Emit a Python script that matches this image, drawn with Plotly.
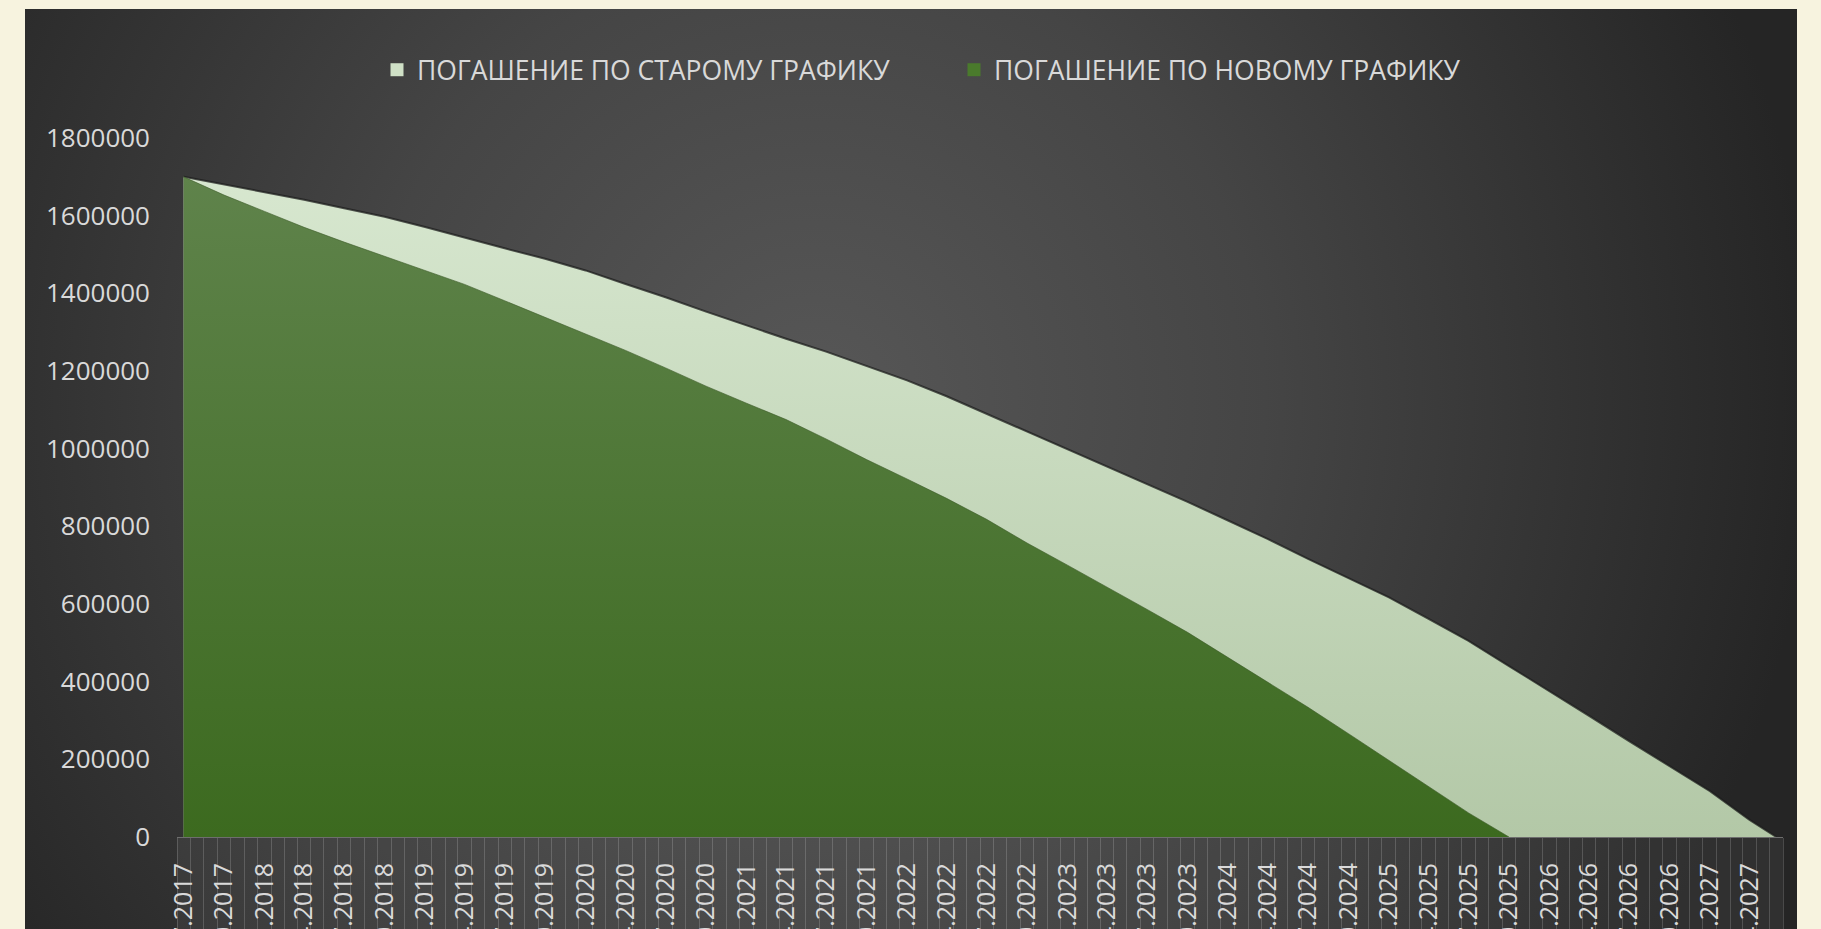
import base64
import plotly.graph_objects as go

# ---- data ----
# quarterly payment dates that carry an axis label
label_dates = [
    "2017-07-01", "2017-10-01",
    "2018-01-01", "2018-04-01", "2018-07-01", "2018-10-01",
    "2019-01-01", "2019-04-01", "2019-07-01", "2019-10-01",
    "2020-01-01", "2020-04-01", "2020-07-01", "2020-10-01",
    "2021-01-01", "2021-04-01", "2021-07-01", "2021-10-01",
    "2022-01-01", "2022-04-01", "2022-07-01", "2022-10-01",
    "2023-01-01", "2023-04-01", "2023-07-01", "2023-10-01",
    "2024-01-01", "2024-04-01", "2024-07-01", "2024-10-01",
    "2025-01-01", "2025-04-01", "2025-07-01", "2025-10-01",
    "2026-01-01", "2026-04-01", "2026-07-01", "2026-10-01",
    "2027-01-01", "2027-04-01",
]
old_end_date = "2027-06-01"

# remaining debt, old schedule (at label dates, then final payment)
old_values = [
    1700000, 1680000, 1661000, 1641000, 1619000, 1597000, 1571000, 1543000,
    1516000, 1489000, 1459000, 1424000, 1390000, 1353000, 1317000, 1283000,
    1250000, 1213000, 1176000, 1135000, 1090000, 1045000, 1000000, 955000,
    909000, 863000, 815000, 767000, 716000, 667000, 617000, 562000,
    505000, 440000, 376000, 312000, 247000, 183000, 118000, 44000,
    0,
]
# remaining debt, new schedule (at label dates; last value is the payoff)
new_values = [
    1700000, 1653000, 1611000, 1570000, 1532000, 1495000, 1459000, 1423000,
    1381000, 1338000, 1296000, 1253000, 1208000, 1161000, 1117000, 1075000,
    1025000, 972000, 922000, 872000, 818000, 757000, 700000, 644000,
    586000, 527000, 462000, 398000, 334000, 266000, 198000, 131000,
    62000, 0,
]
y_ticks = [0, 200000, 400000, 600000, 800000, 1000000, 1200000, 1400000, 1600000, 1800000]

old_name = "ПОГАШЕНИЕ ПО СТАРОМУ ГРАФИКУ"
new_name = "ПОГАШЕНИЕ ПО НОВОМУ ГРАФИКУ"

old_dates = label_dates + [old_end_date]
new_dates = label_dates[:len(new_values)]

# ---- layout geometry ----
W, H = 1821, 929
ML, MR, MT, MB = 177, 38, 138, 92
PW, PH = W - ML - MR, H - MT - MB

TXT = "#d9d9d9"
FONT = "Open Sans"

# radial gradient background of the chart object
BX0, BY0, BW, BH = 25, 9, 1772, 920
svg = f"""<svg xmlns='http://www.w3.org/2000/svg' width='{BW}' height='{BH}' viewBox='0 0 {BW} {BH}' preserveAspectRatio='none'>
<defs><radialGradient id='g' gradientUnits='userSpaceOnUse' cx='790' cy='390' r='1000'>
<stop offset='0' stop-color='#575757'/><stop offset='0.45' stop-color='#454545'/>
<stop offset='1' stop-color='#252525'/></radialGradient></defs>
<rect width='{BW}' height='{BH}' fill='url(#g)'/></svg>"""
bg_src = "data:image/svg+xml;base64," + base64.b64encode(svg.encode()).decode()

fig = go.Figure()

fig.add_trace(go.Scatter(
    x=old_dates, y=old_values, mode="lines", fill="tozeroy",
    line=dict(color="rgba(28,28,28,0.75)", width=2),
    fillgradient=dict(type="vertical", colorscale=[[0, "#b3c8a7"], [1, "#d7e7cf"]]),
    showlegend=False, hoverinfo="skip", name=old_name,
))
fig.add_trace(go.Scatter(
    x=new_dates, y=new_values, mode="lines", fill="tozeroy",
    line=dict(color="rgba(60,90,40,0.6)", width=1),
    fillgradient=dict(type="vertical", colorscale=[[0, "#3c6a1f"], [1, "#5f834b"]]),
    showlegend=False, hoverinfo="skip", name=new_name,
))
# legend swatches
fig.add_trace(go.Scatter(x=[None], y=[None], mode="markers", name=old_name,
                         marker=dict(symbol="square", size=13, color="#cfe0c6")))
fig.add_trace(go.Scatter(x=[None], y=[None], mode="markers", name=new_name,
                         marker=dict(symbol="square", size=13, color="#4a7a2c")))

fig.update_layout(
    width=W, height=H,
    margin=dict(l=ML, r=MR, t=MT, b=MB, autoexpand=False),
    paper_bgcolor="#f7f3df",
    plot_bgcolor="rgba(0,0,0,0)",
    font=dict(family=FONT, color=TXT),
    showlegend=True,
    legend=dict(
        orientation="h", xref="container", yref="container",
        x=377 / W, xanchor="left", y=1 - 70 / H, yanchor="middle",
        font=dict(family=FONT, size=26.5, color=TXT),
        bgcolor="rgba(0,0,0,0)", entrywidth=532, entrywidthmode="pixels",
        itemclick=False,
    ),
    images=[dict(
        source=bg_src, xref="paper", yref="paper",
        x=(BX0 - ML) / PW, y=(H - MB - BY0) / PH,
        sizex=BW / PW, sizey=BH / PH, xanchor="left", yanchor="top",
        sizing="stretch", layer="below",
    )],
    shapes=[dict(
        type="rect", xref="paper", yref="paper", x0=0, x1=1, y0=-MB / PH, y1=0,
        fillcolor="rgba(255,255,255,0.05)", line=dict(width=0), layer="below",
    )],
    xaxis=dict(
        type="date", range=["2017-06-16", "2027-06-16"],
        tickmode="array", tickvals=label_dates, tickformat="%d.%m.%Y",
        tickangle=-90, tickfont=dict(family=FONT, size=25, color=TXT),
        ticks="", ticklabelstandoff=15,
        showgrid=False, zeroline=False,
        showline=True, linecolor="#6e6e6e", linewidth=1,
        minor=dict(tickmode="linear", tick0="2017-06-16", dtick="M1",
                   ticks="outside", ticklen=100, tickwidth=1,
                   tickcolor="rgba(255,255,255,0.17)", showgrid=False),
        fixedrange=True,
    ),
    yaxis=dict(
        range=[0, 1800000], tickmode="array", tickvals=y_ticks,
        ticktext=[str(v) for v in y_ticks],
        tickfont=dict(family=FONT, size=26, color=TXT),
        ticks="", ticklabelstandoff=26,
        showgrid=False, zeroline=False, showline=False, fixedrange=True,
    ),
)

fig.write_html("out.html")
